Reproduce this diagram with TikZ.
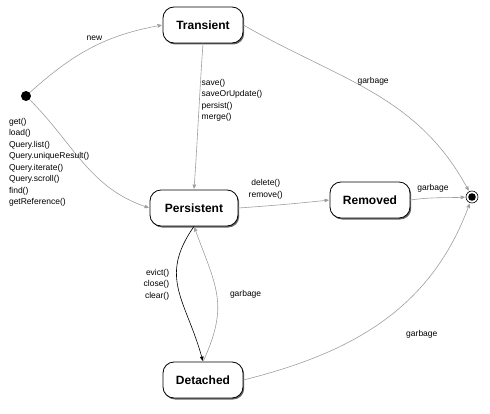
\documentclass[tikz,border=0pt]{standalone}
\usepackage{fontspec}
\setmainfont{Liberation Sans}
\usetikzlibrary{arrows,shadows}

\begin{document}
\begin{tikzpicture}[->,>=stealth',shorten >=1pt,auto,x=1pt,y=1pt,
                    semithick]
  \tikzstyle{phase}=[rectangle,rounded corners=11pt,draw=black,thick,fill=white,
                     minimum width=80pt,minimum height=36pt,
                     font=\bfseries\fontsize{12}{14}\selectfont,
                     drop shadow={shadow xshift=1.2pt,shadow yshift=-1.5pt,fill=black!75,opacity=0.8}]
  \tikzstyle{call}=[font=\fontsize{8.5}{11.5}\selectfont,inner sep=1pt,text=black]
  \tikzstyle{wire}=[draw=black!38]
  \useasboundingbox (0,0) rectangle (490,413);

  \node[circle,fill=black,inner sep=0pt,minimum size=10pt] (start) at (26,317) {};
  \node[circle,draw=black,fill=white,inner sep=0pt,minimum size=12pt,
        path picture={\fill[-,black] (path picture bounding box.center) circle (3.8pt);}]
                                            (stop) at (472,216) {};

  \node[phase]                      (trans) at (203,388) {Transient};
  \node[phase,minimum width=88pt]   (pers)  at (194,205) {Persistent};
  \node[phase]                      (remov) at (370,213) {Removed};
  \node[phase]                      (detach) at (203,33) {Detached};

  \path (start)   edge [wire,out=42,in=190]   node[call,pos=0.6] {new}           (trans.west)
        (start)   edge [wire,out=-45,in=162]
                       node[call,at start,anchor=north west,xshift=-22pt,yshift=-17pt,align=left]
                       {get()\\load()\\Query.list()\\Query.uniqueResult()\\Query.iterate()\\Query.scroll()\\find()\\getReference()}
                                                                                 (pers.west)
        (trans.south) edge [wire,out=-94,in=86]
                       node[call,pos=0.38,anchor=west,xshift=1pt,align=left]
                       {save()\\saveOrUpdate()\\persist()\\merge()}              (pers.north)
        (trans.east)  edge [wire,out=-30,in=118]
                       node[call,pos=0.43,yshift=-3pt] {garbage}                 (stop)
        (pers.east)   edge [wire,out=4,in=186]
                       node[call,pos=0.5,yshift=4pt,align=center] {delete()\\remove()} (remov.west)
        (remov.east)  edge [wire,out=8,in=182] node[call,pos=0.4,yshift=4pt] {garbage} (stop)
        (pers.south)  edge [out=-125,in=105,looseness=1.2]
                       node[call,pos=0.45,left=7pt,align=right] {evict()\\close()\\clear()}
                                                                                 (detach.north)
        (detach.north) edge [wire,out=65,in=-70,looseness=1.2]
                       node[call,pos=0.5,right=12pt] {garbage}                   (pers.south)
        (detach.east) edge [wire,out=14,in=-110]
                       node[call,pos=0.6,swap,xshift=0pt,yshift=-26pt] {garbage} (stop);
\end{tikzpicture}
\end{document}
